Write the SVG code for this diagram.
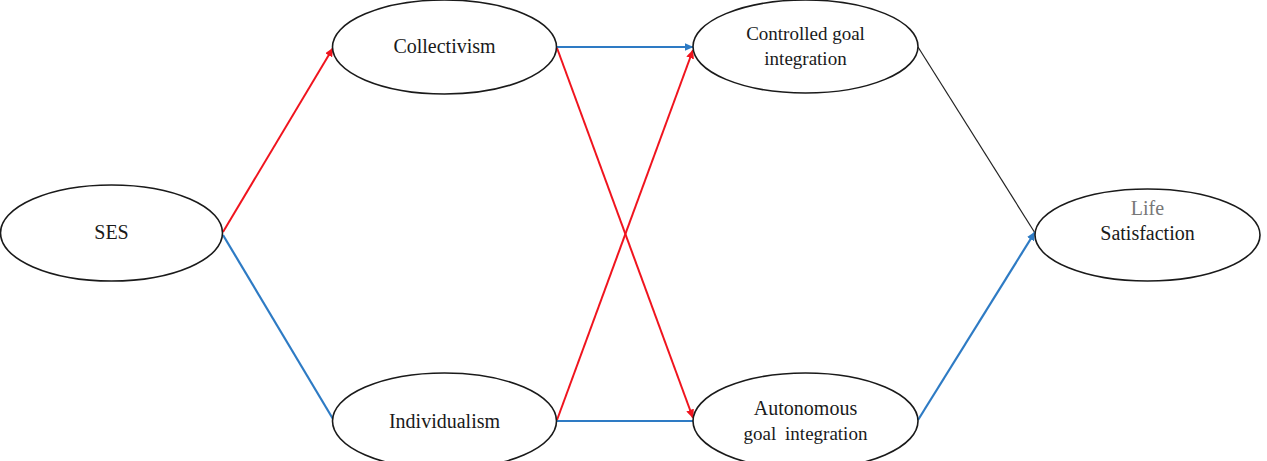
<svg xmlns="http://www.w3.org/2000/svg" width="1267" height="461" viewBox="0 0 1267 461">
<defs>
<style>
.node ellipse{fill:#fff;stroke:#1a1a1a;stroke-width:1.6}
.node text{font-family:"Liberation Serif","Times New Roman",serif;font-size:20px;fill:#1a1a1a;text-anchor:middle}
.node text.sm{font-size:19px}
.red{stroke:#f0141e;stroke-width:2;fill:none}
.blue{stroke:#2e7bc4;stroke-width:2.2;fill:none}
.black{stroke:#222;stroke-width:1.2;fill:none}
</style>
<marker id="ar" markerWidth="9" markerHeight="8" refX="8.5" refY="4" orient="auto" markerUnits="userSpaceOnUse"><path d="M0,0 L9,4 L0,8 Z" fill="#f0141e"/></marker>
<marker id="ab" markerWidth="9" markerHeight="8" refX="8.5" refY="4" orient="auto" markerUnits="userSpaceOnUse"><path d="M0,0 L9,4 L0,8 Z" fill="#2e7bc4"/></marker>
</defs>
<rect width="1267" height="461" fill="#fff"/>
<g id="connectors">
<line class="red" x1="223" y1="232" x2="333" y2="48" marker-end="url(#ar)"/>
<line class="blue" x1="223" y1="235" x2="333" y2="419"/>
<line class="blue" x1="557" y1="47" x2="693" y2="47" marker-end="url(#ab)"/>
<line class="red" x1="557" y1="48" x2="693" y2="418" marker-end="url(#ar)"/>
<line class="red" x1="557" y1="420" x2="693" y2="50" marker-end="url(#ar)"/>
<line class="blue" x1="557" y1="421" x2="693" y2="421"/>
<line class="black" x1="918" y1="47" x2="1035" y2="233"/>
<line class="blue" x1="918" y1="420" x2="1035" y2="232" marker-end="url(#ab)"/>
</g>
<g id="ses" class="node"><ellipse cx="111.5" cy="233" rx="111" ry="48"/><text x="111.5" y="239">SES</text></g>
<g id="collectivism" class="node"><ellipse cx="444.5" cy="47" rx="112" ry="47"/><text x="444.5" y="53">Collectivism</text></g>
<g id="individualism" class="node"><ellipse cx="444.5" cy="421" rx="112" ry="48"/><text x="444.5" y="428">Individualism</text></g>
<g id="controlled" class="node"><ellipse cx="805.5" cy="46.5" rx="112.5" ry="46.5"/><text class="sm" x="805.5" y="40">Controlled goal</text><text class="sm" x="805.5" y="65">integration</text></g>
<g id="autonomous" class="node"><ellipse cx="805.5" cy="421" rx="112.5" ry="48"/><text x="805.5" y="415">Autonomous</text><text class="sm" x="805.5" y="440" word-spacing="4">goal integration</text></g>
<g id="life" class="node"><ellipse cx="1147.5" cy="235" rx="112.5" ry="46"/><text x="1147.5" y="215" style="fill:#777">Life</text><text x="1147.5" y="240">Satisfaction</text></g>
</svg>
